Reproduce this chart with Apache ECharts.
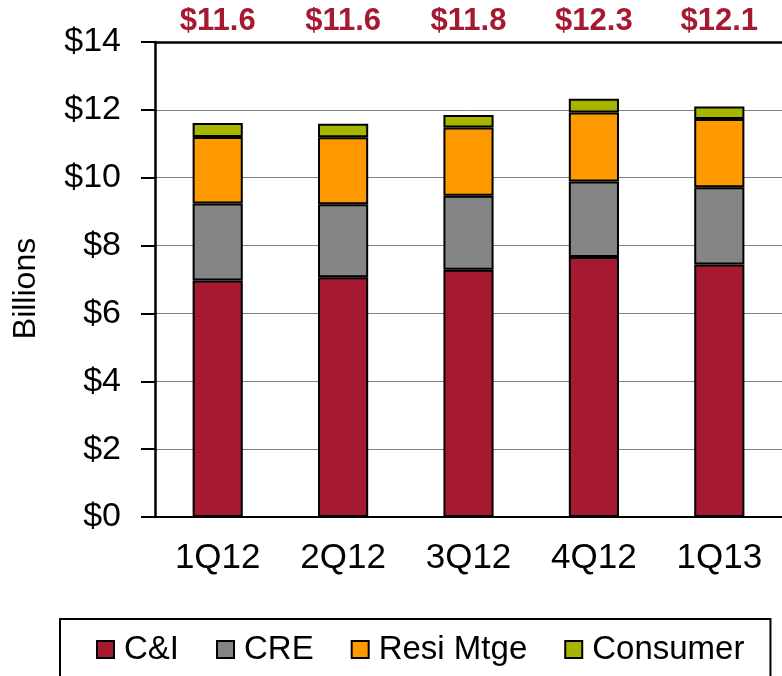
<!DOCTYPE html>
<html lang="en">
<head>
    <meta charset="UTF-8">
    <title>Loans by type</title>
    <script src="https://cdn.jsdelivr.net/npm/echarts@6/dist/echarts.min.js"></script>
    <style>
        html, body { margin: 0; padding: 0; background: #fff; }
        #showDiv { width: 782px; height: 676px; }
    </style>
</head>
<body>
<div id="showDiv"></div>
<script type="text/javascript">
	// quarters and stacked values, billions
	var categories = ['1Q12', '2Q12', '3Q12', '4Q12', '1Q13'];
	var cniValues = [6.97, 7.07, 7.29, 7.66, 7.44];
	var creValues = [2.27, 2.15, 2.18, 2.23, 2.28];
	var resiValues = [1.96, 1.97, 2.01, 2.03, 2.01];
	var consumerValues = [0.41, 0.40, 0.37, 0.41, 0.37];
	var totalLabels = ['$11.6', '$11.6', '$11.8', '$12.3', '$12.1'];

	var seriesNames = ['C&I', 'CRE', 'Resi Mtge', 'Consumer'];
	var seriesColors = ['#A51931', '#858585', '#FF9900', '#A6B500'];
	var seriesValues = [cniValues, creValues, resiValues, consumerValues];

	var font = 'Liberation Sans, Arial, sans-serif';

	var series = [];
	for (var i = 0; i < seriesNames.length; i++) {
		series.push({
			name: seriesNames[i],
			type: 'bar',
			stack: 'loans',
			barWidth: '40%',
			data: seriesValues[i],
			itemStyle: {
				color: seriesColors[i],
				borderColor: '#000',
				borderWidth: 2
			}
		});
	}

	var myChart = echarts.init(document.getElementById('showDiv'));
	var option = {
		animation: false,
		textStyle: { fontFamily: font },
		grid: { left: 155, top: 42, width: 633, height: 475 },
		legend: {
			data: seriesNames,
			left: 60,
			top: 619,
			orient: 'horizontal',
			icon: 'rect',
			itemWidth: 17,
			itemHeight: 17,
			itemGap: 37,
			padding: [14, 26, 30, 36],
			borderColor: '#000',
			borderWidth: 2,
			textStyle: { fontSize: 33, color: '#000', fontFamily: font, padding: [0, 0, 0, 5] }
		},
		xAxis: [
			{
				type: 'category',
				data: categories,
				position: 'bottom',
				axisLine: { lineStyle: { color: '#000', width: 2 } },
				axisTick: { length: 10, lineStyle: { color: '#000', width: 2 } },
				axisLabel: { fontSize: 35, color: '#000', margin: 24, fontFamily: font }
			},
			{
				type: 'category',
				data: totalLabels,
				position: 'top',
				axisLine: { lineStyle: { color: '#000', width: 2.5 } },
				axisTick: { show: false },
				axisLabel: { fontSize: 31, fontWeight: 'bold', color: '#A51931', margin: 5, fontFamily: font }
			}
		],
		yAxis: {
			type: 'value',
			min: 0,
			max: 14,
			interval: 2,
			name: 'Billions',
			nameLocation: 'middle',
			nameRotate: 90,
			nameGap: 113,
			nameTextStyle: { fontSize: 32, color: '#000', fontFamily: font, padding: [0, 18, 0, 0] },
			axisLine: { show: true, lineStyle: { color: '#000', width: 2.5 } },
			axisTick: { show: true, length: 14, lineStyle: { color: '#000', width: 2 } },
			axisLabel: {
				fontSize: 34,
				color: '#000',
				margin: 34,
				fontFamily: font,
				formatter: function(v) { return '$' + v; }
			},
			splitLine: { lineStyle: { color: '#808080', width: 1 } }
		},
		series: series
	};
	myChart.setOption(option, true);
</script>
</body>
</html>
